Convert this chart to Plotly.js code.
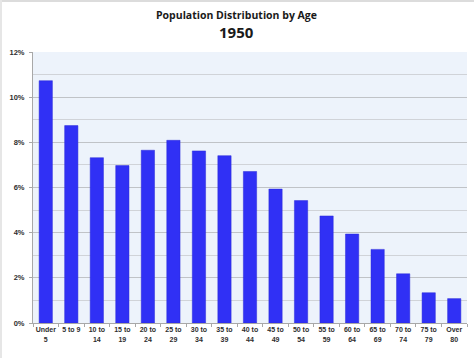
<!DOCTYPE html>
<html>
<head>
<meta charset="utf-8">
<script src="https://cdn.plot.ly/plotly-3.0.1.min.js"></script>
<style>
html,body{margin:0;padding:0;background:#ffffff;}
#wrap{position:relative;width:474px;height:358px;}
#chart{width:474px;height:358px;}
#edgeTop{position:absolute;left:0;top:0;width:474px;height:2px;background:#dcdcdc;}
#edgeLeft{position:absolute;left:0;top:0;width:2px;height:358px;background:#e6e6e6;}
</style>
</head>
<body>
<div id="wrap">
<div id="chart"></div>
<div id="edgeTop"></div>
<div id="edgeLeft"></div>
</div>
<script>
var ageGroups = ["Under<br>5","5 to 9","10 to<br>14","15 to<br>19","20 to<br>24","25 to<br>29","30 to<br>34","35 to<br>39","40 to<br>44","45 to<br>49","50 to<br>54","55 to<br>59","60 to<br>64","65 to<br>69","70 to<br>74","75 to<br>79","Over<br>80"];
var sharePct = [10.73, 8.74, 7.32, 6.97, 7.65, 8.09, 7.62, 7.41, 6.71, 5.93, 5.42, 4.74, 3.94, 3.26, 2.18, 1.34, 1.08];
var yTickVals = [0, 2, 4, 6, 8, 10, 12];
var yTickText = ["0%", "2%", "4%", "6%", "8%", "10%", "12%"];
var chartTitle = "Population Distribution by Age";
var chartYear = "1950";

var fontFam = "'Liberation Sans', Arial, sans-serif";
var titleFam = "'Open Sans', 'Liberation Sans', Arial, sans-serif";

var trace = {
  type: "bar",
  x: ageGroups,
  y: sharePct,
  marker: {color: "#3030f5", line: {color: "#2a2ad8", width: 0.5}},
  hoverinfo: "skip"
};

var layout = {
  width: 474,
  height: 358,
  margin: {l: 33, r: 7, t: 52, b: 35},
  paper_bgcolor: "#ffffff",
  plot_bgcolor: "#edf3fb",
  bargap: 0.48,
  showlegend: false,
  annotations: [
    {text: "<b>" + chartTitle + "</b>", xref: "paper", yref: "paper", x: 0.47, y: 1, yshift: 37,
     xanchor: "center", yanchor: "middle", showarrow: false,
     font: {family: titleFam, size: 10.5, color: "#1a1a1a"}},
    {text: "<b>" + chartYear + "</b>", xref: "paper", yref: "paper", x: 0.47, y: 1, yshift: 20,
     xanchor: "center", yanchor: "middle", showarrow: false,
     font: {family: titleFam, size: 15, color: "#1a1a1a"}}
  ],
  xaxis: {
    type: "category",
    showgrid: false,
    showline: true,
    linecolor: "#a8a8a8",
    linewidth: 1,
    ticks: "outside",
    ticklen: 3,
    tickcolor: "#a8a8a8",
    tickson: "boundaries",
    tickangle: 0,
    tickfont: {family: fontFam, size: 7, color: "#2e2e2e", weight: "bold"},
    fixedrange: true
  },
  yaxis: {
    range: [0, 12],
    tickvals: yTickVals,
    ticktext: yTickText,
    showgrid: true,
    gridcolor: "#c0c3c7",
    gridwidth: 1,
    zeroline: false,
    showline: true,
    linecolor: "#a8a8a8",
    linewidth: 1,
    ticks: "outside",
    ticklen: 3,
    tickcolor: "#a8a8a8",
    ticklabelstandoff: 3,
    tickfont: {family: fontFam, size: 7.5, color: "#2e2e2e", weight: "bold"},
    minor: {dtick: 1, showgrid: true, gridcolor: "#d0d3d8", gridwidth: 1, ticks: ""},
    fixedrange: true
  }
};

Plotly.newPlot("chart", [trace], layout, {displayModeBar: false, staticPlot: true});
</script>
</body>
</html>
